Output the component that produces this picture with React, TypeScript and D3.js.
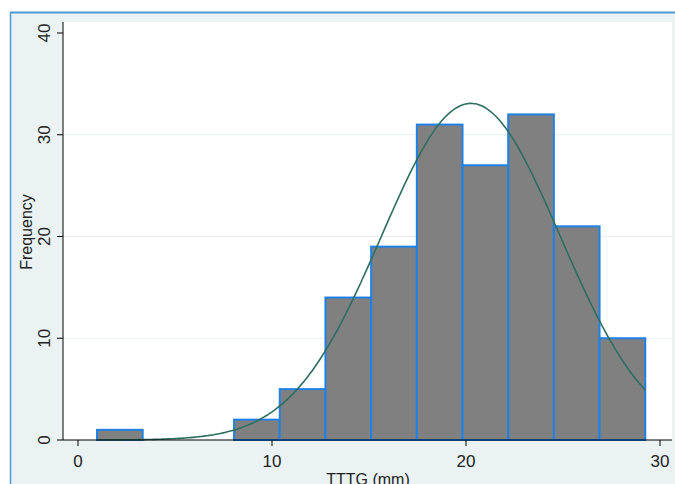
import React from "react";
import * as d3 from "d3";

const binStart = 0.98;
const binWidth = 2.355;
const counts = [1, 0, 0, 2, 5, 14, 19, 31, 27, 32, 21, 10];
const xTicks = [0, 10, 20, 30];
const yTicks = [0, 10, 20, 30, 40];
const gridTicks = [10, 20, 30];
const fitMean = 20.25;
const fitSd = 4.6;
const xLabel = "TTTG (mm)";
const yLabel = "Frequency";

export default function App() {
  const W = 675, H = 484;
  const plotL = 63, plotR = 672, plotT = 22, plotB = 440;
  const x = d3.scaleLinear().domain([0, 30]).range([78, 660]);
  const y = d3.scaleLinear().domain([0, 40]).range([440, 33]);
  const total = d3.sum(counts);
  const bins = counts.map((c, i) => ({ x0: binStart + i * binWidth, x1: binStart + (i + 1) * binWidth, c }));
  const xMin = binStart, xMax = binStart + counts.length * binWidth;
  const pts = d3.range(0, 201).map((i) => {
    const v = xMin + (xMax - xMin) * i / 200;
    const d = Math.exp(-((v - fitMean) ** 2) / (2 * fitSd * fitSd)) / (fitSd * Math.sqrt(2 * Math.PI));
    return [v, total * binWidth * d] as [number, number];
  });
  const line = d3.line<[number, number]>().x((d) => x(d[0])).y((d) => y(d[1])).curve(d3.curveBasis);
  const font = "Liberation Sans, Arial, sans-serif";
  return (
    <svg width={W} height={H} style={{ position: "absolute", left: 0, top: 0 }} fontFamily={font}>
      <rect x={0} y={0} width={W} height={H} fill="#ffffff" />
      <rect x={10} y={12} width={W - 10} height={H - 12} fill="#eaf2f3" />
      <line x1={10} x2={W} y1={12.5} y2={12.5} stroke="#4a9ad6" strokeWidth={2} />
      <line x1={10.5} x2={10.5} y1={12} y2={H} stroke="#4a9ad6" strokeWidth={1.5} />
      <rect x={plotL} y={plotT} width={plotR - plotL} height={plotB - plotT} fill="#ffffff" />
      {gridTicks.map((t) => (
        <line key={t} x1={plotL} x2={plotR} y1={y(t)} y2={y(t)} stroke="#eaeeee" strokeWidth={1} />
      ))}
      {bins.filter((b) => b.c > 0).map((b, i) => (
        <rect key={i} x={x(b.x0)} y={y(b.c)} width={x(b.x1) - x(b.x0)} height={y(0) - y(b.c)}
          fill="#808080" stroke="#1f80e6" strokeWidth={2} />
      ))}
      <path d={line(pts) || ""} fill="none" stroke="#2e6e60" strokeWidth={1.6} />
      <line x1={plotL} x2={plotR} y1={plotB} y2={plotB} stroke="#000" strokeWidth={1} />
      <line x1={plotL} x2={plotL} y1={plotT} y2={plotB} stroke="#000" strokeWidth={1} />
      {yTicks.map((t) => (
        <g key={t}>
          <line x1={plotL - 6} x2={plotL} y1={y(t)} y2={y(t)} stroke="#000" />
          <text transform={`translate(${50},${y(t)}) rotate(-90)`} textAnchor="middle" fontSize={17} fill="#222">{t}</text>
        </g>
      ))}
      {xTicks.map((t) => (
        <g key={t}>
          <line x1={x(t)} x2={x(t)} y1={plotB} y2={plotB + 6} stroke="#000" />
          <text x={x(t)} y={467} textAnchor="middle" fontSize={17} fill="#222">{t}</text>
        </g>
      ))}
      <text transform={`translate(${32},${232}) rotate(-90)`} textAnchor="middle" fontSize={16} fill="#222">{yLabel}</text>
      <text x={368} y={485} textAnchor="middle" fontSize={16} fill="#222">{xLabel}</text>
    </svg>
  );
}
